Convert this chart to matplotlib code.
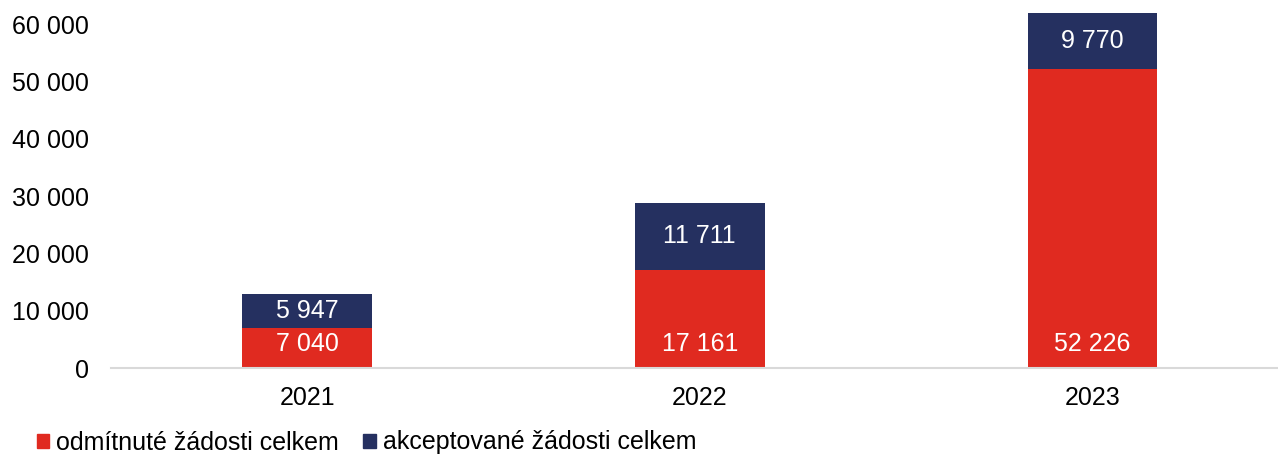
import matplotlib.pyplot as plt
from matplotlib.patches import Patch

plt.rcParams['font.family'] = ['Liberation Sans', 'DejaVu Sans']

years = ['2021', '2022', '2023']
odmitnute = [7040, 17161, 52226]
akceptovane = [5947, 11711, 9770]
yticks = [0, 10000, 20000, 30000, 40000, 50000, 60000]

RED = '#E02A20'
NAVY = '#253060'
FS = 18


def fmt(v):
    return f"{v:,}".replace(",", " ")


W, H = 1278, 454
fig = plt.figure(figsize=(W / 100, H / 100), dpi=100)
ax = fig.add_axes([111 / W, 86 / H, (W - 111) / W, (H - 86) / H])

x = range(len(years))
b1 = ax.bar(x, odmitnute, width=0.33, color=RED)
b2 = ax.bar(x, akceptovane, width=0.33, bottom=odmitnute, color=NAVY)

# red labels sit near the bar base, navy ones in the middle of the segment
for rect, v in zip(b1, odmitnute):
    ax.annotate(fmt(v), (rect.get_x() + rect.get_width() / 2, 0),
                xytext=(0, 17), textcoords='offset points',
                ha='center', va='center', color='white', fontsize=FS)
for rect, v in zip(b2, akceptovane):
    ax.text(rect.get_x() + rect.get_width() / 2, rect.get_y() + rect.get_height() / 2,
            fmt(v), ha='center', va='center', color='white', fontsize=FS)

ax.set_xlim(-0.5, 2.473)
ax.set_ylim(0, 64200)
ax.set_xticks(list(x))
ax.set_xticklabels(years, fontsize=FS)
ax.set_yticks(yticks)
ax.set_yticklabels([fmt(v) for v in yticks], fontsize=FS)
ax.tick_params(axis='y', length=0, pad=16)
ax.tick_params(axis='x', length=0, pad=13)

for s in ['top', 'right', 'left']:
    ax.spines[s].set_visible(False)
ax.spines['bottom'].set_color('#d9d9d9')
ax.spines['bottom'].set_linewidth(1.5)

handles = [Patch(color=RED, label='odmítnuté žádosti celkem'),
           Patch(color=NAVY, label='akceptované žádosti celkem')]
fig.legend(handles=handles, loc='lower left', bbox_to_anchor=(14 / W, -23 / H),
           ncol=2, frameon=False, fontsize=FS, handlelength=0.5, handleheight=0.5,
           handletextpad=0.3, columnspacing=0.95)

fig.savefig('out.png', dpi=100)
